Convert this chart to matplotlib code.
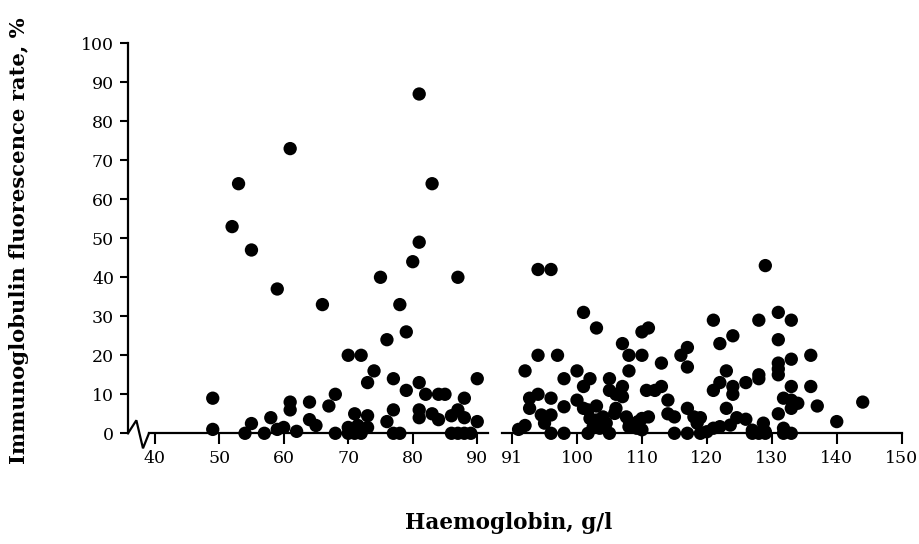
import numpy as np
import matplotlib
matplotlib.use('Agg')
import matplotlib.pyplot as plt
from matplotlib.lines import Line2D

# Data (haemoglobin g/l, fluorescence rate %)
low_hb = [49, 49, 52, 53, 54, 55, 55, 57, 58, 59, 59, 60, 61, 61, 61, 62,
          64, 64, 65, 66, 67, 68, 68, 70, 70, 70, 71, 71, 71.5, 72, 72, 72, 73,
          73, 73, 74, 75, 76, 76, 77, 77, 77, 78, 78, 79, 79, 80, 81, 81,
          81, 81, 81, 82, 83, 83, 84, 84, 85, 86, 86, 87, 87, 87, 88, 88,
          88, 89, 90, 90]
low_rate = [9, 1, 53, 64, 0, 2.5, 47, 0, 4, 1, 37, 1.5, 73, 8, 6, 0.5,
            8, 3.5, 2, 33, 7, 10, 0, 20, 1.5, 0, 5, 0, 2, 20, 1, 0, 13,
            4.5, 1.5, 16, 40, 24, 3, 14, 6, 0, 33, 0, 26, 11, 44, 87, 49,
            13, 6, 4, 10, 64, 5, 10, 3.5, 10, 4.5, 0, 40, 6, 0, 9, 4,
            0, 0, 14, 3]

high_hb = [91, 92, 92, 92.7, 92.7, 94, 94, 94, 94.5, 95, 96, 96, 96, 96,
           97, 98, 98, 98, 100, 100, 101, 101, 101, 102, 101.7, 102, 101.7,
           102.5, 103, 103, 103, 103.5, 104, 104.5, 105, 105, 105, 106, 106,
           105.8, 107, 107, 107, 107.6, 108, 108, 108, 108.1, 109.2, 109.4,
           110, 110, 110, 110, 111, 110.7, 111, 112, 113, 113, 114, 114, 115,
           115, 116, 117, 117, 117, 117, 118, 119, 118.5, 119, 120, 121, 121,
           121, 122, 122, 122, 123, 123, 123.6, 124, 124, 124, 124.6, 126,
           126, 127, 127, 128, 128, 128, 128, 128.7, 129, 129, 129, 131, 131,
           131, 131, 131, 131, 131.8, 131.8, 131.8, 133, 133, 133, 133, 133,
           133, 134, 136, 136, 137, 140, 144]
high_rate = [1, 2, 16, 9, 6.4, 42, 20, 10, 4.7, 2.6, 42, 9, 4.7, 0,
             20, 14, 6.8, 0, 16, 8.5, 31, 12, 6.4, 14, 6, 3.8, 0,
             1.7, 27, 7, 3.4, 1.3, 4.2, 2.6, 14, 11, 0, 10, 6.4,
             5.1, 23, 12, 9.4, 4.2, 20, 16, 1.7, 2.6, 1.3, 3,
             26, 20, 3.8, 0.9, 27, 11, 4.2, 11, 18, 12, 8.5, 5, 4.2,
             0, 20, 22, 17, 6.4, 0, 4.2, 4, 2.6, 0, 0.4, 29, 11,
             1.3, 23, 13, 1.7, 16, 6.4, 2.1, 25, 12, 10, 4, 13,
             3.6, 0.8, 0, 29, 15, 14, 0, 2.6, 43, 0.4, 0, 31, 24,
             18, 16.5, 15, 5, 9, 1.3, 0, 29, 19, 12, 8.5, 6.4,
             0, 7.7, 20, 12, 7, 3, 8]

y_ticks = list(range(0, 101, 10))
low_ticks = [40, 50, 60, 70, 80, 90]
high_ticks = [90, 100, 110, 120, 130, 140, 150]
high_tick_labels = ['91', '100', '110', '120', '130', '140', '150']

plt.rcParams['font.family'] = ['DejaVu Serif']

fig = plt.figure(figsize=(9.2, 5.44), dpi=100)
ax1 = fig.add_axes([0.1391, 0.2035, 0.3913, 0.7169])
ax2 = fig.add_axes([0.5453, 0.2035, 0.4348, 0.7169])

marker = dict(s=92, color='black', edgecolors='none', clip_on=False, zorder=3)
ax1.scatter(low_hb, low_rate, **marker)
ax2.scatter(high_hb, high_rate, **marker)

ax1.set_xlim(35.86, 91.66)
ax2.set_xlim(88.4, 150)
for ax in (ax1, ax2):
    ax.set_ylim(0, 100)
    ax.spines['top'].set_visible(False)
    ax.spines['right'].set_visible(False)
    ax.spines['bottom'].set_linewidth(1.6)
    ax.spines['left'].set_linewidth(1.6)
    ax.tick_params(axis='both', direction='out', length=8, width=1.5,
                   labelsize=12.5, colors='black', pad=4)

ax1.set_yticks(y_ticks)
ax1.tick_params(axis='y', length=6, pad=4)
ax1.set_xticks(low_ticks)
ax1.spines['bottom'].set_bounds(39.16, 91.66)

ax2.spines['left'].set_visible(False)
ax2.set_yticks([])
ax2.set_xticks(high_ticks)
ax2.set_xticklabels(high_tick_labels)

# axis break squiggle at the origin
brk_x = [0.0, 0.0233, 0.0417, 0.0583]
brk_y = [0.0, 0.0333, -0.0385, 0.0]
ax1.add_line(Line2D(brk_x, brk_y, transform=ax1.transAxes, color='black',
                    lw=1.6, clip_on=False, solid_joinstyle='miter'))

fig.text(0.553, 0.039, 'Haemoglobin, g/l', ha='center', va='center',
         fontsize=15.5, fontweight='bold')
fig.text(0.021, 0.557, 'Immunoglobulin fluorescence rate, %', rotation=90,
         ha='center', va='center', fontsize=15.2, fontweight='bold')

fig.savefig('out.png', dpi=100)
